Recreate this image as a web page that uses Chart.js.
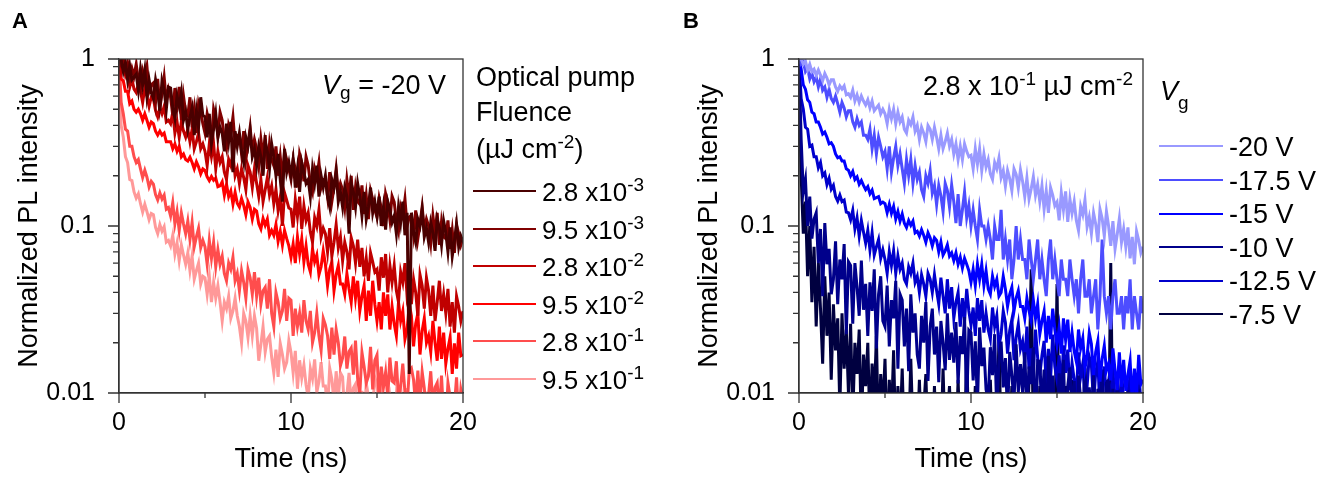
<!DOCTYPE html>
<html>
<head>
<meta charset="utf-8">
<script src="https://cdn.jsdelivr.net/npm/chart.js@4.4.1/dist/chart.umd.min.js"></script>
<style>
body{margin:0;background:#fff;font-family:Arial,'Liberation Sans',sans-serif;color:#000}
#wrap{position:relative;width:1336px;height:479px;overflow:hidden}
canvas{position:absolute;top:0}
.t{position:absolute;font-size:27px;line-height:30px;white-space:nowrap}
.t.s26{font-size:26px}
.t sup{font-size:19px;line-height:0;vertical-align:0;position:relative;top:-10px}
.t sub{font-size:19px;line-height:0;vertical-align:0;position:relative;top:5px}
.t sub.low{top:9px}
.panel{position:absolute;font-weight:bold;font-size:22px;line-height:26px}
.sw{position:absolute;height:0;border-top:2.5px solid}
</style>
</head>
<body>
<div id="wrap">
  <canvas id="chartA" width="480" height="479" style="left:0"></canvas>
  <canvas id="chartB" width="480" height="479" style="left:680px"></canvas>
  <div class="panel" style="left:12px;top:8px">A</div>
  <div class="panel" style="left:683px;top:8px">B</div>
  <div class="t" style="right:890px;top:70px"><i>V</i><sub>g</sub> = -20 V</div>
  <div class="t" style="left:476px;top:62px">Optical pump</div>
  <div class="t" style="left:476px;top:97px">Fluence</div>
  <div class="t" style="left:476px;top:134px">(µJ cm<sup>-2</sup>)</div>
  <div class="t" style="right:203px;top:71px">2.8 x 10<sup>-1</sup> µJ cm<sup>-2</sup></div>
  <div class="t" style="left:1160px;top:76px"><i>V</i><sub class="low">g</sub></div>
  <div id="legA"></div>
  <div id="legB"></div>
</div>
<script>
// time axis (ns), one point every 0.125 ns
const timeNs = [
  0,0.125,0.25,0.375,0.5,0.625,0.75,0.875,
  1,1.125,1.25,1.375,1.5,1.625,1.75,1.875,
  2,2.125,2.25,2.375,2.5,2.625,2.75,2.875,
  3,3.125,3.25,3.375,3.5,3.625,3.75,3.875,
  4,4.125,4.25,4.375,4.5,4.625,4.75,4.875,
  5,5.125,5.25,5.375,5.5,5.625,5.75,5.875,
  6,6.125,6.25,6.375,6.5,6.625,6.75,6.875,
  7,7.125,7.25,7.375,7.5,7.625,7.75,7.875,
  8,8.125,8.25,8.375,8.5,8.625,8.75,8.875,
  9,9.125,9.25,9.375,9.5,9.625,9.75,9.875,
  10,10.125,10.25,10.375,10.5,10.625,10.75,10.875,
  11,11.125,11.25,11.375,11.5,11.625,11.75,11.875,
  12,12.125,12.25,12.375,12.5,12.625,12.75,12.875,
  13,13.125,13.25,13.375,13.5,13.625,13.75,13.875,
  14,14.125,14.25,14.375,14.5,14.625,14.75,14.875,
  15,15.125,15.25,15.375,15.5,15.625,15.75,15.875,
  16,16.125,16.25,16.375,16.5,16.625,16.75,16.875,
  17,17.125,17.25,17.375,17.5,17.625,17.75,17.875,
  18,18.125,18.25,18.375,18.5,18.625,18.75,18.875,
  19,19.125,19.25,19.375,19.5,19.625,19.75,19.875,
  20];

// panel A : optical pump fluence series (Vg = -20 V)
const fluenceMantissa = ['2.8','9.5','2.8','9.5','2.8','9.5'];
const fluenceExponent = ['-3','-3','-2','-2','-1','-1'];
const fluenceColors = ['#4a0000','#800000','#c00000','#ff0000','#ff4d4d','#ff9999'];

const plF28e3 = [
  1.0,0.99,0.84,0.95,0.75,0.91,0.75,0.78,
  0.81,0.65,0.87,0.7,0.86,0.6,0.75,0.63,
  0.58,0.75,0.64,0.49,0.74,0.65,0.5,0.68,
  0.67,0.51,0.44,0.6,0.52,0.63,0.43,0.48,
  0.38,0.45,0.51,0.35,0.49,0.39,0.59,0.46,
  0.45,0.34,0.47,0.31,0.38,0.47,0.34,0.39,
  0.36,0.28,0.41,0.32,0.42,0.21,0.37,0.3,
  0.36,0.28,0.24,0.34,0.3,0.37,0.26,0.29,
  0.23,0.3,0.26,0.2,0.32,0.28,0.22,0.31,
  0.26,0.2,0.27,0.19,0.14,0.29,0.21,0.24,
  0.2,0.25,0.17,0.22,0.16,0.24,0.21,0.18,
  0.19,0.15,0.22,0.18,0.23,0.15,0.2,0.17,
  0.2,0.15,0.13,0.19,0.17,0.21,0.14,0.16,
  0.13,0.17,0.15,0.09,0.18,0.16,0.13,0.18,
  0.15,0.115,0.16,0.11,0.13,0.17,0.12,0.14,
  0.115,0.15,0.1,0.13,0.095,0.14,0.125,0.105,
  0.115,0.09,0.13,0.105,0.14,0.088,0.12,0.013,
  0.12,0.092,0.08,0.11,0.1,0.125,0.086,0.097,
  0.08,0.105,0.091,0.071,0.11,0.098,0.077,0.107,
  0.091,0.07,0.098,0.066,0.081,0.103,0.075,0.087,
  0.08];
const plF95e3 = [
  1.0,0.92,1.0,0.86,0.95,0.78,0.88,0.79,
  0.93,0.75,0.66,0.85,0.76,0.9,0.64,0.7,
  0.72,0.55,0.76,0.51,0.62,0.78,0.56,0.66,
  0.59,0.46,0.67,0.52,0.68,0.43,0.6,0.48,
  0.46,0.59,0.39,0.5,0.36,0.54,0.48,0.41,
  0.36,0.47,0.41,0.32,0.5,0.44,0.35,0.48,
  0.43,0.33,0.29,0.4,0.36,0.45,0.31,0.35,
  0.35,0.27,0.37,0.25,0.31,0.39,0.28,0.33,
  0.29,0.23,0.33,0.26,0.35,0.22,0.31,0.25,
  0.23,0.3,0.2,0.26,0.19,0.28,0.25,0.22,
  0.19,0.25,0.22,0.17,0.27,0.24,0.185,0.26,
  0.23,0.18,0.16,0.22,0.195,0.24,0.17,0.19,
  0.19,0.15,0.21,0.14,0.17,0.22,0.16,0.18,
  0.165,0.13,0.19,0.15,0.2,0.125,0.17,0.14,
  0.135,0.175,0.118,0.152,0.11,0.163,0.145,0.125,
  0.113,0.147,0.128,0.1,0.156,0.138,0.109,0.151,
  0.139,0.107,0.093,0.13,0.116,0.145,0.1,0.113,
  0.116,0.089,0.124,0.084,0.103,0.13,0.095,0.11,
  0.1,0.079,0.115,0.091,0.12,0.077,0.106,0.086,
  0.084,0.108,0.073,0.094,0.069,0.101,0.09,0.077,
  0.085];
const plF28e2 = [
  1.0,0.84,0.95,0.8,0.87,0.68,0.76,0.66,
  0.63,0.71,0.64,0.55,0.67,0.6,0.52,0.59,
  0.58,0.49,0.45,0.51,0.47,0.52,0.42,0.43,
  0.41,0.48,0.36,0.42,0.34,0.42,0.37,0.34,
  0.38,0.32,0.38,0.29,0.32,0.36,0.29,0.31,
  0.28,0.23,0.31,0.26,0.31,0.22,0.28,0.24,
  0.26,0.21,0.19,0.25,0.23,0.27,0.2,0.22,
  0.18,0.22,0.195,0.165,0.23,0.21,0.17,0.22,
  0.18,0.15,0.19,0.14,0.165,0.195,0.154,0.174,
  0.136,0.166,0.124,0.149,0.1,0.158,0.143,0.128,
  0.126,0.098,0.144,0.114,0.15,0.096,0.132,0.108,
  0.12,0.092,0.08,0.112,0.1,0.125,0.086,0.097,
  0.09,0.07,0.097,0.066,0.08,0.102,0.074,0.086,
  0.062,0.08,0.07,0.055,0.085,0.076,0.06,0.083,
  0.057,0.074,0.05,0.064,0.047,0.069,0.061,0.053,
  0.055,0.041,0.065,0.049,0.068,0.04,0.058,0.046,
  0.058,0.041,0.035,0.053,0.046,0.06,0.038,0.044,
  0.034,0.048,0.04,0.029,0.051,0.044,0.032,0.049,
  0.041,0.029,0.044,0.027,0.035,0.047,0.031,0.039,
  0.03,0.042,0.025,0.035,0.023,0.038,0.033,0.027,
  0.031];
const plF95e2 = [
  1.0,0.76,0.74,0.64,0.64,0.54,0.56,0.5,
  0.48,0.5,0.47,0.43,0.47,0.43,0.39,0.42,
  0.41,0.37,0.35,0.37,0.35,0.36,0.32,0.32,
  0.32,0.29,0.31,0.28,0.3,0.26,0.27,0.25,
  0.245,0.258,0.24,0.22,0.242,0.226,0.205,0.22,
  0.215,0.197,0.187,0.198,0.188,0.194,0.172,0.174,
  0.184,0.153,0.178,0.15,0.162,0.135,0.159,0.137,
  0.13,0.146,0.133,0.117,0.139,0.129,0.11,0.126,
  0.123,0.103,0.096,0.111,0.101,0.11,0.088,0.094,
  0.088,0.102,0.081,0.093,0.077,0.094,0.084,0.076,
  0.065,0.078,0.06,0.086,0.068,0.084,0.061,0.076,
  0.059,0.053,0.073,0.061,0.067,0.051,0.057,0.071,
  0.059,0.044,0.055,0.061,0.041,0.051,0.058,0.045,
  0.045,0.039,0.052,0.042,0.035,0.05,0.037,0.047,
  0.031,0.038,0.044,0.027,0.041,0.029,0.047,0.034,
  0.027,0.035,0.024,0.04,0.029,0.039,0.024,0.033,
  0.026,0.022,0.035,0.027,0.031,0.021,0.024,0.034,
  0.029,0.019,0.026,0.03,0.017,0.0235,0.028,0.02,
  0.022,0.0176,0.027,0.02,0.0156,0.025,0.016,0.023,
  0.015,0.0185,0.0216,0.013,0.0198,0.014,0.023,0.0167,
  0.017];
const plF28e1 = [
  1.0,0.55,0.47,0.38,0.37,0.3,0.3,0.26,
  0.24,0.25,0.22,0.195,0.216,0.196,0.171,0.185,
  0.178,0.154,0.143,0.158,0.145,0.153,0.126,0.129,
  0.115,0.138,0.103,0.122,0.094,0.12,0.103,0.09,
  0.107,0.083,0.105,0.075,0.086,0.097,0.074,0.082,
  0.075,0.059,0.082,0.064,0.08,0.057,0.072,0.059,
  0.066,0.052,0.047,0.06,0.055,0.065,0.047,0.052,
  0.041,0.054,0.046,0.037,0.055,0.049,0.039,0.053,
  0.038,0.049,0.034,0.041,0.043,0.032,0.048,0.03,
  0.025,0.04,0.035,0.028,0.031,0.042,0.027,0.037,
  0.036,0.022,0.032,0.025,0.03,0.023,0.036,0.027,
  0.024,0.031,0.02,0.023,0.03,0.022,0.018,0.028,
  0.0256,0.022,0.016,0.0246,0.017,0.024,0.02,0.0146,
  0.0162,0.0218,0.014,0.0177,0.0186,0.0129,0.0206,0.0122,
  0.0098,0.0175,0.0144,0.0115,0.0126,0.0189,0.0105,0.0157,
  0.0169,0.009,0.0144,0.0108,0.0133,0.0094,0.0163,0.0118,
  0.0115,0.0155,0.0092,0.011,0.015,0.0101,0.0083,0.0136,
  0.0141,0.012,0.0083,0.0136,0.0088,0.0134,0.0107,0.0075,
  0.0098,0.0135,0.0084,0.0108,0.0115,0.0076,0.0127,0.0072,
  0.0064,0.0115,0.0095,0.0074,0.0083,0.0124,0.0069,0.0105,
  0.009];
const plF95e1 = [
  1.0,0.4,0.34,0.26,0.24,0.19,0.187,0.16,
  0.147,0.156,0.136,0.121,0.135,0.122,0.109,0.119,
  0.117,0.098,0.09,0.102,0.093,0.099,0.08,0.082,
  0.076,0.088,0.068,0.079,0.062,0.077,0.067,0.059,
  0.069,0.054,0.066,0.048,0.054,0.06,0.045,0.05,
  0.049,0.039,0.05,0.035,0.046,0.037,0.044,0.035,
  0.027,0.035,0.032,0.038,0.028,0.031,0.037,0.029,
  0.025,0.02,0.03,0.027,0.0215,0.029,0.022,0.029,
  0.0244,0.0156,0.0196,0.025,0.0176,0.021,0.022,0.0164,
  0.0132,0.0182,0.0125,0.0198,0.017,0.014,0.0153,0.0206,
  0.0175,0.0132,0.0179,0.0106,0.0157,0.0123,0.0147,0.0112,
  0.0093,0.014,0.0122,0.0159,0.0101,0.0117,0.0153,0.011,
  0.011,0.008,0.0141,0.0121,0.0088,0.0135,0.0094,0.0132,
  0.0125,0.0074,0.0098,0.0132,0.0085,0.0107,0.0113,0.0078,
  0.0069,0.0103,0.0064,0.0115,0.0095,0.0075,0.0083,0.0124,
  0.0113,0.0082,0.0117,0.0063,0.01,0.0075,0.0092,0.0065,
  0.0059,0.0097,0.0082,0.0111,0.0066,0.0079,0.0107,0.0072,
  0.0078,0.0055,0.0103,0.0087,0.0061,0.0099,0.0064,0.0098,
  0.0093,0.0053,0.0072,0.0099,0.0061,0.0079,0.0084,0.0055,
  0.0053,0.008,0.0049,0.0088,0.0072,0.0056,0.0063,0.0095,
  0.007];

// panel B : gate voltage series (2.8 x 10^-1 uJ cm-2)
const gateLabels = ['-20 V','-17.5 V','-15 V','-10 V','-12.5 V','-7.5 V'];
const gateColors = ['#9999ff','#4d4dff','#0000ff','#00008b','#0000cc','#000040'];

const plVg20 = [
  1.0,1.0,0.93,0.97,0.86,0.93,0.84,0.87,
  0.8,0.86,0.8,0.74,0.82,0.77,0.7,0.75,
  0.75,0.68,0.64,0.69,0.66,0.69,0.61,0.62,
  0.59,0.65,0.56,0.61,0.55,0.6,0.56,0.53,
  0.57,0.51,0.56,0.49,0.51,0.53,0.47,0.5,
  0.47,0.41,0.5,0.44,0.5,0.41,0.48,0.42,
  0.45,0.38,0.36,0.43,0.405,0.45,0.37,0.4,
  0.33,0.39,0.36,0.32,0.4,0.38,0.33,0.39,
  0.34,0.29,0.35,0.29,0.32,0.36,0.3,0.33,
  0.27,0.31,0.25,0.3,0.25,0.31,0.28,0.26,
  0.265,0.22,0.29,0.235,0.29,0.215,0.27,0.225,
  0.25,0.205,0.19,0.24,0.22,0.255,0.195,0.215,
  0.173,0.215,0.192,0.163,0.22,0.204,0.169,0.217,
  0.185,0.15,0.194,0.145,0.167,0.197,0.153,0.177,
  0.14,0.174,0.126,0.162,0.12,0.17,0.153,0.132,
  0.139,0.108,0.158,0.125,0.161,0.106,0.145,0.119,
  0.14,0.108,0.094,0.131,0.117,0.143,0.099,0.113,
  0.09,0.12,0.103,0.08,0.126,0.111,0.087,0.122,
  0.1,0.076,0.107,0.073,0.089,0.111,0.08,0.096,
  0.075,0.098,0.064,0.086,0.059,0.093,0.082,0.069,
  0.075];
const plVg175 = [
  1.0,0.93,0.96,0.84,0.88,0.76,0.82,0.73,
  0.78,0.68,0.76,0.65,0.68,0.59,0.66,0.58,
  0.55,0.6,0.54,0.48,0.55,0.51,0.45,0.49,
  0.49,0.42,0.39,0.44,0.4,0.42,0.35,0.35,
  0.33,0.38,0.29,0.35,0.27,0.34,0.3,0.26,
  0.28,0.22,0.3,0.21,0.255,0.3,0.23,0.27,
  0.22,0.18,0.25,0.2,0.25,0.18,0.23,0.19,
  0.21,0.165,0.15,0.2,0.18,0.215,0.157,0.175,
  0.134,0.175,0.152,0.122,0.18,0.163,0.13,0.176,
  0.14,0.104,0.155,0.1,0.125,0.16,0.112,0.133,
  0.1,0.125,0.1,0.083,0.125,0.1,0.1,0.083,
  0.1,0.083,0.063,0.1,0.083,0.083,0.125,0.063,
  0.083,0.063,0.083,0.048,0.063,0.1,0.063,0.083,
  0.063,0.063,0.048,0.083,0.063,0.048,0.063,0.083,
  0.048,0.063,0.048,0.038,0.063,0.083,0.048,0.063,
  0.048,0.038,0.063,0.048,0.048,0.038,0.063,0.048,
  0.038,0.048,0.03,0.048,0.063,0.038,0.038,0.048,
  0.03,0.038,0.048,0.024,0.038,0.083,0.038,0.03,
  0.038,0.024,0.038,0.048,0.03,0.03,0.038,0.024,
  0.038,0.03,0.048,0.024,0.038,0.03,0.024,0.038,
  0.03];
const plVg15 = [
  1.0,0.87,0.7,0.66,0.57,0.55,0.48,0.47,
  0.42,0.42,0.39,0.355,0.365,0.34,0.31,0.315,
  0.3,0.27,0.256,0.26,0.245,0.245,0.22,0.216,
  0.2,0.212,0.19,0.197,0.178,0.187,0.175,0.165,
  0.172,0.156,0.164,0.146,0.148,0.15,0.136,0.139,
  0.136,0.12,0.135,0.119,0.131,0.11,0.122,0.107,
  0.118,0.104,0.098,0.108,0.101,0.107,0.091,0.093,
  0.087,0.095,0.088,0.08,0.091,0.085,0.076,0.085,
  0.082,0.07,0.08,0.067,0.071,0.077,0.066,0.069,
  0.062,0.069,0.059,0.065,0.056,0.064,0.059,0.054,
  0.046,0.055,0.044,0.059,0.048,0.059,0.044,0.054,
  0.042,0.039,0.05,0.0435,0.048,0.038,0.04,0.05,
  0.042,0.033,0.039,0.043,0.031,0.037,0.041,0.033,
  0.033,0.028,0.037,0.031,0.027,0.036,0.028,0.034,
  0.0225,0.027,0.031,0.02,0.029,0.021,0.032,0.024,
  0.0194,0.0246,0.0172,0.028,0.0207,0.0275,0.0176,0.023,
  0.0178,0.0154,0.024,0.0185,0.0213,0.014,0.0167,0.023,
  0.0197,0.0128,0.0176,0.0205,0.0117,0.016,0.0192,0.0136,
  0.015,0.0119,0.0185,0.0137,0.0104,0.0175,0.0109,0.0158,
  0.0103,0.0129,0.0156,0.0088,0.014,0.0094,0.0169,0.0113,
  0.012];
const plVg10 = [
  1.0,0.33,0.16,0.19,0.1,0.15,0.084,0.11,
  0.12,0.06,0.096,0.038,0.104,0.059,0.073,0.039,
  0.048,0.081,0.034,0.063,0.048,0.078,0.0225,0.061,
  0.058,0.026,0.06,0.043,0.029,0.062,0.0315,0.045,
  0.022,0.046,0.031,0.055,0.0185,0.039,0.05,0.027,
  0.025,0.044,0.019,0.036,0.028,0.047,0.014,0.039,
  0.036,0.019,0.032,0.0135,0.039,0.023,0.03,0.017,
  0.014,0.029,0.02,0.035,0.0118,0.025,0.032,0.017,
  0.025,0.0116,0.027,0.02,0.0137,0.03,0.0158,0.023,
  0.0152,0.0266,0.0114,0.0219,0.0171,0.0285,0.0086,0.0238,
  0.023,0.0119,0.0204,0.0085,0.0247,0.0145,0.0187,0.0105,
  0.009,0.0188,0.0128,0.0225,0.0075,0.0158,0.0203,0.0108,
  0.0162,0.0074,0.0176,0.0128,0.0088,0.0196,0.0101,0.0149,
  0.01,0.0175,0.0075,0.0144,0.0113,0.0188,0.0056,0.0156,
  0.0155,0.008,0.0138,0.0058,0.0167,0.0098,0.0127,0.0071,
  0.0063,0.0131,0.0089,0.0158,0.0053,0.011,0.0142,0.0076,
  0.0118,0.0054,0.0127,0.0093,0.0064,0.0142,0.0074,0.0108,
  0.0074,0.0129,0.0055,0.0106,0.0083,0.0138,0.0041,0.0115,
  0.0119,0.0062,0.0106,0.0044,0.0128,0.0075,0.0097,0.0055,
  0.005,0.0104,0.0071,0.0125,0.0042,0.0087,0.0112,0.006,
  0.008];
const plVg125 = [
  1.0,0.58,0.5,0.39,0.38,0.3,0.305,0.26,
  0.26,0.223,0.24,0.2,0.208,0.177,0.193,0.166,
  0.175,0.15,0.141,0.153,0.14,0.143,0.121,0.12,
  0.109,0.124,0.096,0.112,0.087,0.108,0.092,0.079,
  0.094,0.072,0.091,0.067,0.075,0.083,0.064,0.072,
  0.063,0.052,0.07,0.058,0.071,0.052,0.066,0.055,
  0.06,0.048,0.045,0.057,0.052,0.06,0.046,0.05,
  0.04,0.051,0.045,0.038,0.052,0.048,0.04,0.051,
  0.041,0.034,0.049,0.038,0.03,0.048,0.032,0.043,
  0.028,0.035,0.04,0.025,0.037,0.027,0.042,0.031,
  0.0255,0.0325,0.022,0.037,0.027,0.036,0.023,0.03,
  0.024,0.021,0.0325,0.025,0.029,0.019,0.0225,0.031,
  0.0265,0.0172,0.0237,0.0275,0.0157,0.0215,0.0258,0.0183,
  0.0204,0.0152,0.025,0.0139,0.0185,0.0133,0.024,0.0163,
  0.0128,0.0168,0.0205,0.0112,0.0184,0.012,0.0224,0.0144,
  0.012,0.0168,0.0098,0.0193,0.0132,0.0182,0.0104,0.0151,
  0.012,0.01,0.0175,0.0125,0.015,0.0088,0.011,0.0165,
  0.0147,0.0087,0.0132,0.0155,0.0078,0.0115,0.0144,0.0092,
  0.0116,0.0084,0.0147,0.0076,0.0105,0.0074,0.0137,0.009,
  0.0078,0.0103,0.0125,0.0069,0.0113,0.0074,0.0137,0.0088,
  0.0095];
const plVg75 = [
  0.7,0.2,0.09,0.14,0.05,0.1,0.035,0.075,
  0.025,0.06,0.032,0.015,0.05,0.022,0.04,0.012,
  0.034,0.018,0.028,0.008,0.03,0.014,0.024,0.01,
  0.026,0.007,0.02,0.013,0.024,0.006,0.017,0.011,
  0.02,0.006,0.015,0.009,0.022,0.005,0.013,0.008,
  0.016,0.005,0.012,0.007,0.018,0.005,0.011,0.006,
  0.014,0.005,0.01,0.005,0.016,0.006,0.009,0.005,
  0.012,0.005,0.008,0.013,0.005,0.01,0.005,0.011,
  0.005,0.009,0.005,0.014,0.005,0.007,0.011,0.005,
  0.008,0.005,0.012,0.005,0.009,0.005,0.018,0.005,
  0.007,0.005,0.011,0.005,0.008,0.005,0.01,0.005,
  0.005,0.012,0.005,0.007,0.005,0.022,0.005,0.008,
  0.005,0.009,0.005,0.011,0.005,0.007,0.005,0.01,
  0.005,0.008,0.005,0.012,0.055,0.005,0.009,0.005,
  0.011,0.005,0.007,0.005,0.013,0.005,0.008,0.005,
  0.045,0.005,0.009,0.005,0.011,0.005,0.006,0.012,
  0.005,0.008,0.005,0.01,0.005,0.014,0.005,0.007,
  0.005,0.011,0.005,0.009,0.005,0.007,0.005,0.012,
  0.005,0.06,0.005,0.008,0.005,0.01,0.005,0.007,
  0.009,0.005,0.012,0.005,0.007,0.005,0.01,0.005,
  0.008];

const yTickValues = [0.01, 0.1, 1];
const yTickLabels = ['0.01', '0.1', '1'];
const xTickValues = [0, 10, 20];
const xTickLabels = ['0', '10', '20'];
const xMinorTicks = [5, 15];

const FONT = "Arial, 'Liberation Sans', sans-serif";

// box around the plot + outside tick marks (major and minor)
const frameTicks = {
  id: 'frameTicks',
  afterDraw(chart) {
    const {ctx, chartArea: a, scales: {x, y}} = chart;
    ctx.save();
    ctx.strokeStyle = '#333';
    ctx.lineWidth = 1.3;
    ctx.strokeRect(a.left, a.top, a.right - a.left, a.bottom - a.top);
    ctx.beginPath();
    yTickValues.forEach(v => {
      const p = y.getPixelForValue(v);
      ctx.moveTo(a.left - 11, p); ctx.lineTo(a.left, p);
    });
    for (let d = 0.01; d < 0.5; d *= 10) {
      for (let k = 2; k <= 9; k++) {
        const p = y.getPixelForValue(k * d);
        ctx.moveTo(a.left - 6, p); ctx.lineTo(a.left, p);
      }
    }
    xTickValues.forEach(v => {
      const p = x.getPixelForValue(v);
      ctx.moveTo(p, a.bottom); ctx.lineTo(p, a.bottom + 10);
    });
    xMinorTicks.forEach(v => {
      const p = x.getPixelForValue(v);
      ctx.moveTo(p, a.bottom); ctx.lineTo(p, a.bottom + 5);
    });
    ctx.stroke();
    ctx.restore();
  }
};

function toPoints(vals) {
  return vals.map((v, i) => ({x: timeNs[i], y: v}));
}

function buildPanel(id, series, colors) {
  return new Chart(document.getElementById(id), {
    type: 'line',
    data: {
      datasets: series.map((s, i) => ({
        data: toPoints(s),
        borderColor: colors[i],
        borderWidth: 3,
        pointRadius: 0,
        tension: 0,
        clip: 0
      }))
    },
    options: {
      responsive: false,
      animation: false,
      events: [],
      layout: {padding: {top: 59, right: 17, left: 0, bottom: 0}},
      plugins: {legend: {display: false}, tooltip: {enabled: false}},
      scales: {
        x: {
          type: 'linear', min: 0, max: 20,
          afterBuildTicks: s => { s.ticks = xTickValues.map(v => ({value: v})); },
          afterFit: s => { s.height = 86; s.paddingLeft = 0; s.paddingRight = 0; },
          grid: {display: false, drawTicks: false},
          border: {display: true, color: '#333', width: 1.3},
          ticks: {padding: 15, color: '#000', maxRotation: 0, autoSkip: false,
            font: {family: FONT, size: 25}, callback: (v, i) => xTickLabels[i]},
          title: {display: true, text: 'Time (ns)', color: '#000',
            font: {family: FONT, size: 27}, padding: {top: 0, bottom: 3}}
        },
        y: {
          type: 'logarithmic', min: 0.01, max: 1,
          afterBuildTicks: s => { s.ticks = yTickValues.map(v => ({value: v})); },
          afterFit: s => { s.width = 119; s.paddingTop = 0; s.paddingBottom = 0; },
          grid: {display: false, drawTicks: false},
          border: {display: true, color: '#333', width: 1.3},
          ticks: {padding: 24, color: '#000', autoSkip: false,
            font: {family: FONT, size: 25}, callback: (v, i) => yTickLabels[i]},
          title: {display: true, text: 'Normalized PL intensity', color: '#000',
            font: {family: FONT, size: 27}, padding: {top: 13, bottom: 0}}
        }
      }
    },
    plugins: [frameTicks]
  });
}

buildPanel('chartA', [plF28e3, plF95e3, plF28e2, plF95e2, plF28e1, plF95e1], fluenceColors);
buildPanel('chartB', [plVg20, plVg175, plVg15, plVg10, plVg125, plVg75], gateColors);

// legends
document.getElementById('legA').innerHTML = fluenceMantissa.map((m, i) => {
  const cy = 191.7 + i * 37.5;
  return `<div class="sw" style="left:473px;width:63px;top:${cy - 1.25}px;border-color:${fluenceColors[i]}"></div>` +
    `<div class="t s26" style="left:542px;top:${cy - 14.7}px">${m} x10<sup>${fluenceExponent[i]}</sup></div>`;
}).join('');

document.getElementById('legB').innerHTML = gateLabels.map((l, i) => {
  const cy = 146.7 + i * 33.6;
  return `<div class="sw" style="left:1159px;width:64px;top:${cy - 1.25}px;border-color:${gateColors[i]}"></div>` +
    `<div class="t" style="left:1229px;top:${cy - 14.7}px">${l}</div>`;
}).join('');
</script>
</body>
</html>
